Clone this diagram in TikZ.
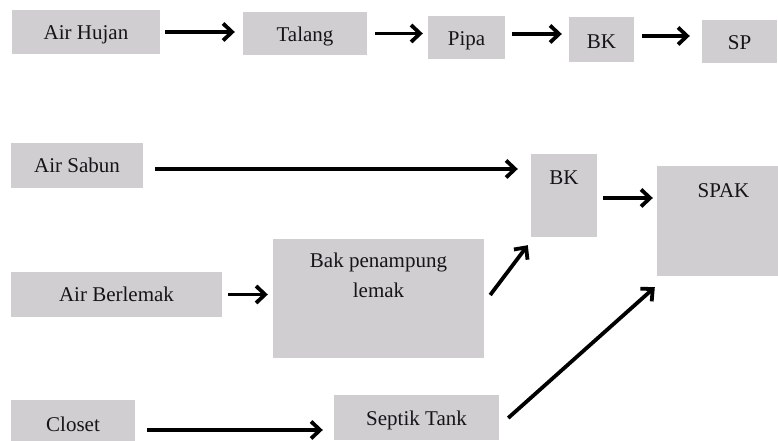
\documentclass[tikz,border=0pt]{standalone}
\usepackage{fontspec}
\setmainfont{Liberation Serif}
\usetikzlibrary{arrows.meta}
\definecolor{boxgray}{RGB}{208,206,208}
\definecolor{inkdark}{RGB}{22,20,24}
\begin{document}
\begin{tikzpicture}[x=1pt,y=1pt,
  blk/.style={fill=boxgray, draw=none, inner sep=0pt,
    text=inkdark, font=\fontsize{21}{30}\selectfont, anchor=base},
  flow/.style={line width=3.8pt, -{Straight Barb[length=9pt,width=17pt,line width=3.8pt]}}]
\useasboundingbox (0,0) rectangle (778,441);

% top chain: rain water
\node[blk, minimum width=148pt, text height=30pt, text depth=14pt] (hujan)  at (86,401)    {Air Hujan};
\node[blk, minimum width=124pt, text height=30pt, text depth=13pt] (talang) at (305,399)   {Talang};
\node[blk, minimum width=77pt,  text height=30pt, text depth=13pt] (pipa)   at (466.5,395) {Pipa};
\node[blk, minimum width=65pt,  text height=32pt, text depth=13pt] (bktop)  at (601.5,392) {BK};
\node[blk, minimum width=75pt,  text height=30pt, text depth=13pt] (sp)     at (739.5,391) {SP};

% lower network: grey water and black water
\node[blk, minimum width=132pt, text height=30pt, text depth=15pt] (sabun)    at (77,268)    {Air Sabun};
\node[blk, minimum width=66pt,  text height=31pt, text depth=52pt] (bk)       at (564,256)   {BK};
\node[blk, minimum width=133pt, text height=32pt, text depth=78pt] (spak)     at (723.5,243) {SPAK};
\node[blk, minimum width=211pt, text height=30pt, text depth=15pt] (berlemak) at (116.5,139) {Air Berlemak};
\node[blk, minimum width=211pt, align=center, text height=59pt, text depth=60pt] (bak) at (378.5,143) {Bak penampung\\lemak};
\node[blk, minimum width=124pt, text height=32pt, text depth=14pt] (closet)   at (73,9)      {Closet};
\node[blk, minimum width=165pt, text height=31pt, text depth=14pt] (septik)   at (416.5,15)  {Septik Tank};

% connectors of the top chain
\draw[flow, shorten <=5pt, shorten >=8pt] (hujan.east) -- (hujan.east -| talang.west);
\draw[flow, shorten <=8pt, shorten >=5pt] (talang.east) -- (talang.east -| pipa.west);
\draw[flow, shorten <=7pt, shorten >=7pt] ([yshift=3.5pt]pipa.east) -- ([yshift=3.5pt]pipa.east -| bktop.west);
\draw[flow, shorten <=8pt, shorten >=12pt] ([yshift=3.5pt]bktop.east) -- ([yshift=3.5pt]bktop.east -| sp.west);

% connectors of the lower network
\draw[flow, shorten <=12pt, shorten >=13pt] ([yshift=-3.5pt]sabun.east) -- ([yshift=-3.5pt]sabun.east -| bk.west);
\draw[flow, shorten <=6pt, shorten >=4pt] ([yshift=-2.5pt]bk.east) -- ([yshift=-2.5pt]bk.east -| spak.west);
\draw[flow, shorten <=6pt, shorten >=5pt] (berlemak.east) -- (berlemak.east -| bak.west);
\draw[flow] ([shift={(6pt,3.5pt)}]bak.east) -- ([shift={(-3pt,-8pt)}]bk.south west);
\draw[flow, shorten <=12pt, shorten >=11pt] ([yshift=-7pt]closet.east) -- ([yshift=-7pt]closet.east -| septik.west);
\draw[flow] ([shift={(9pt,-0.5pt)}]septik.east) -- ([shift={(-2pt,-11pt)}]spak.south west);
\end{tikzpicture}
\end{document}
